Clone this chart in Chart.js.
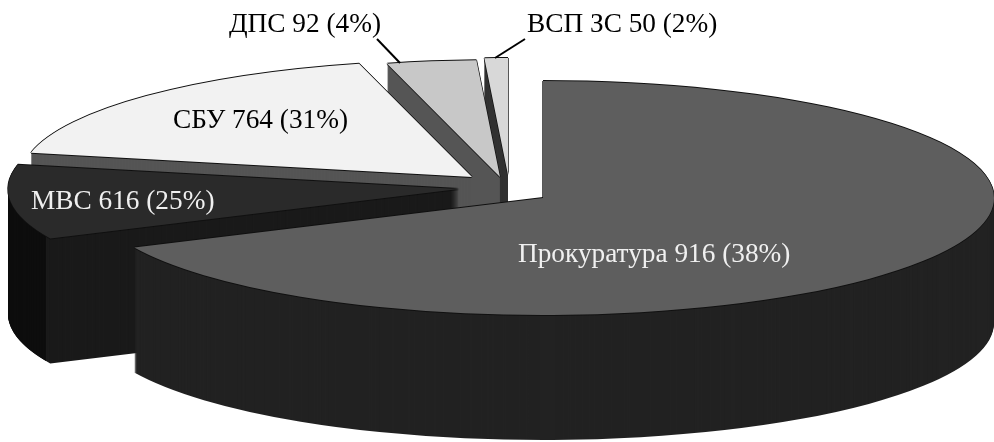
<!DOCTYPE html>
<html>
<head>
<meta charset="utf-8">
<style>
  html, body { margin: 0; background: #fff; }
  canvas { display: block; }
</style>
<script src="https://cdn.jsdelivr.net/npm/chart.js@4/dist/chart.umd.min.js"></script>
</head>
<body>
<canvas id="pie" width="994" height="442"></canvas>
<script>
// values printed in the labels
const names = ['Прокуратура', 'МВС', 'СБУ', 'ДПС', 'ВСП ЗС'];
const counts = [916, 616, 764, 92, 50];
const percents = [38, 25, 31, 4, 2];
// the slices in the picture do not follow the labels, so this is the span
// each one really has on the (un-squashed) pie, in degrees
const drawnSpans = [245, 37, 63.5, 11.5, 3];

const faceColors = ['#5e5e5e', '#2a2a2a', '#f2f2f2', '#c8c8c8', '#d8d8d8'];
const wallColors = ['#222222', '#1a1a1a', '#555555', '#555555', '#333333'];

// where each exploded slice has its tip, on screen
const tips = [[543, 198], [459, 189], [472, 177], [500, 177], [508, 175]];
const radiusX = 451, radiusY = 117, depth = 125;
const backToFront = [4, 3, 2, 1, 0];

const labelSpots = [[518, 262, '#f0f0f0'], [31, 209, '#f0f0f0'], [173, 128, '#000'], [229, 32, '#000'], [527, 32, '#000']];
const leaders = [[377, 39, 400, 63], [525, 39, 495, 58]];

function plainOptions(color) {
    return { backgroundColor: color, borderColor: color, borderWidth: 0, borderRadius: 0, offset: 0, spacing: 0, circular: true, borderAlign: 'center' };
}

// put one arc element on screen at its tip, squashed into the ellipse
function drawSlice(ctx, el, i, color, dx, dy) {
    const saved = el.options;
    if (color) el.options = plainOptions(color);
    ctx.save();
    ctx.translate(tips[i][0] + dx, tips[i][1] + dy);
    ctx.scale(radiusX / el.outerRadius, radiusY / el.outerRadius);
    ctx.translate(-el.x, -el.y);
    el.draw(ctx);
    ctx.restore();
    el.options = saved;
}

const pie3d = {
    id: 'pie3d',
    beforeDatasetDraw(chart, args) {
        const ctx = chart.ctx;
        const arcs = args.meta.data;
        backToFront.forEach(i => {
            for (let d = depth; d > 0; d--) drawSlice(ctx, arcs[i], i, wallColors[i], 0, d);
            // the rounded outer wall of МВС is darker than its cut wall
            if (i === 1) {
                ctx.save();
                ctx.beginPath();
                ctx.rect(0, 0, 46, 442);
                ctx.clip();
                for (let d = depth; d > 0; d--) drawSlice(ctx, arcs[i], i, '#0e0e0e', 0, d);
                ctx.restore();
            }
            [[0, -1], [0, 1], [-0.7, 0], [0.7, 0]].forEach(o => drawSlice(ctx, arcs[i], i, '#111', o[0], o[1]));
            drawSlice(ctx, arcs[i], i, null, 0, 0);
        });
        return false;
    },
    afterDraw(chart) {
        const ctx = chart.ctx;
        ctx.save();
        ctx.strokeStyle = '#000';
        ctx.lineWidth = 2;
        leaders.forEach(l => {
            ctx.beginPath();
            ctx.moveTo(l[0], l[1]);
            ctx.lineTo(l[2], l[3]);
            ctx.stroke();
        });
        ctx.font = '27.3px "Liberation Serif"';
        ctx.textBaseline = 'alphabetic';
        names.forEach((name, i) => {
            ctx.fillStyle = labelSpots[i][2];
            ctx.fillText(name + ' ' + counts[i] + ' (' + percents[i] + '%)', labelSpots[i][0], labelSpots[i][1]);
        });
        ctx.restore();
    }
};

new Chart(document.getElementById('pie'), {
    type: 'pie',
    data: {
        labels: names,
        datasets: [{
            data: drawnSpans,
            backgroundColor: faceColors,
            borderWidth: 0
        }]
    },
    options: {
        responsive: false,
        animation: false,
        plugins: {
            legend: { display: false },
            tooltip: { enabled: false }
        }
    },
    plugins: [pie3d]
});
</script>
</body>
</html>
